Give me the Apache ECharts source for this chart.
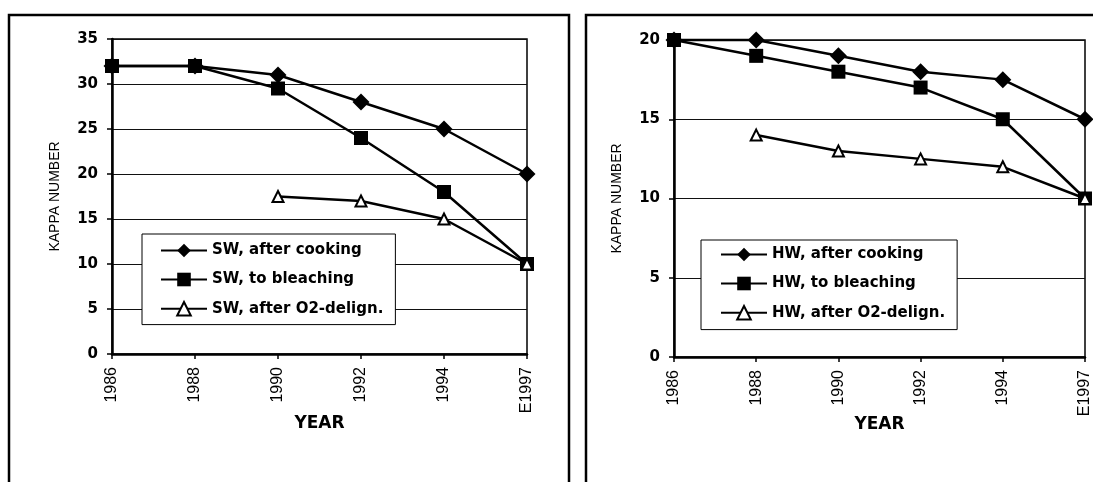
<!DOCTYPE html>
<html>
<head>
<meta charset="utf-8">
<script src="https://cdn.jsdelivr.net/npm/echarts@6/dist/echarts.min.js"></script>
<style>
html,body{margin:0;padding:0;background:#fff;}
#c{width:1093px;height:482px;}
</style>
</head>
<body>
<div id="c"></div>
<script>
const years = ['1986', '1988', '1990', '1992', '1994', 'E1997'];
const swCooking = [32, 32, 31, 28, 25, 20];
const swBleaching = [32, 32, 29.5, 24, 18, 10];
const swO2 = [null, null, 17.5, 17, 15, 10];
const hwCooking = [20, 20, 19, 18, 17.5, 15];
const hwBleaching = [20, 19, 18, 17, 15, 10];
const hwO2 = [null, 14, 13, 12.5, 12, 10];
const swNames = ['SW, after cooking', 'SW, to bleaching', 'SW, after O2-delign.'];
const hwNames = ['HW, after cooking', 'HW, to bleaching', 'HW, after O2-delign.'];
const swMax = 35, hwMax = 20, yStep = 5;
const yTitle = 'KAPPA NUMBER';
const xTitle = 'YEAR';

const plainF = '"Liberation Sans", Arial, sans-serif';
const boldF = '"DejaVu Sans", sans-serif';

function xAxis(gi, gap) {
  return {
    type: 'category', gridIndex: gi, data: years, boundaryGap: false,
    axisLine: {lineStyle: {color: '#000', width: 2.5}},
    axisTick: {show: true, length: 5, lineStyle: {color: '#000', width: 1.5}},
    axisLabel: {rotate: 90, margin: 13, color: '#000', fontFamily: plainF, fontSize: 16},
    splitLine: {show: false},
    name: xTitle, nameLocation: 'middle', nameGap: gap, nameMoveOverlap: false,
    nameTextStyle: {fontFamily: boldF, fontWeight: 'bold', fontSize: 17, color: '#000'}
  };
}
function yAxis(gi, max) {
  return {
    type: 'value', gridIndex: gi, min: 0, max: max, interval: yStep,
    axisLine: {show: true, lineStyle: {color: '#000', width: 2.5}},
    axisTick: {show: true, length: 5, lineStyle: {color: '#000', width: 1.5}},
    axisLabel: {margin: 14, color: '#000', fontFamily: boldF, fontWeight: 'bold', fontSize: 15},
    splitLine: {show: true, lineStyle: {color: '#111', width: 1}},
    name: yTitle, nameLocation: 'middle', nameGap: 50, nameRotate: 90, nameMoveOverlap: false,
    nameTextStyle: {fontFamily: plainF, fontSize: 14, color: '#000'}
  };
}
function mk(name, data, gi, sym, size, fill) {
  return {
    type: 'line', name: name, data: data, xAxisIndex: gi, yAxisIndex: gi,
    symbol: sym, symbolSize: size, showAllSymbol: true, clip: false,
    lineStyle: {color: '#000', width: 2.5},
    itemStyle: {color: fill, borderColor: '#000', borderWidth: fill === '#fff' ? 2 : 0},
    emphasis: {disabled: true}, animation: false, connectNulls: false
  };
}
function legend(names, left, top, pad) {
  return {
    data: names, orient: 'vertical', left: left, top: top,
    itemWidth: 46, itemHeight: 17, itemGap: 14, padding: pad,
    backgroundColor: '#fff', borderColor: '#000', borderWidth: 1,
    textStyle: {fontFamily: boldF, fontWeight: 'bold', fontSize: 15, color: '#000'},
    selectedMode: false
  };
}

const chart = echarts.init(document.getElementById('c'), null, {renderer: 'canvas'});
chart.setOption({
  animation: false,
  backgroundColor: '#fff',
  grid: [
    {left: 112, top: 39, width: 415, height: 315, show: true, borderColor: '#000', borderWidth: 1.5, backgroundColor: 'transparent'},
    {left: 674, top: 40, width: 412, height: 317, show: true, borderColor: '#000', borderWidth: 1.5, backgroundColor: 'transparent'}
  ],
  xAxis: [xAxis(0, 61), xAxis(1, 59)],
  yAxis: [yAxis(0, swMax), yAxis(1, hwMax)],
  legend: [
    legend(swNames, 142, 234, [9, 12, 8, 18]),
    legend(hwNames, 701, 240, [7, 12, 9, 19])
  ],
  series: [
    mk(swNames[0], swCooking, 0, 'diamond', 17, '#000'),
    mk(swNames[1], swBleaching, 0, 'rect', 14, '#000'),
    mk(swNames[2], swO2, 0, 'triangle', 11, '#fff'),
    mk(hwNames[0], hwCooking, 1, 'diamond', 17, '#000'),
    mk(hwNames[1], hwBleaching, 1, 'rect', 14, '#000'),
    mk(hwNames[2], hwO2, 1, 'triangle', 11, '#fff')
  ],
  graphic: [
    {type: 'rect', shape: {x: 9, y: 15, width: 560, height: 500}, style: {fill: 'none', stroke: '#000', lineWidth: 2.5}, silent: true},
    {type: 'rect', shape: {x: 586, y: 15, width: 560, height: 500}, style: {fill: 'none', stroke: '#000', lineWidth: 2.5}, silent: true}
  ]
});
</script>
</body>
</html>
